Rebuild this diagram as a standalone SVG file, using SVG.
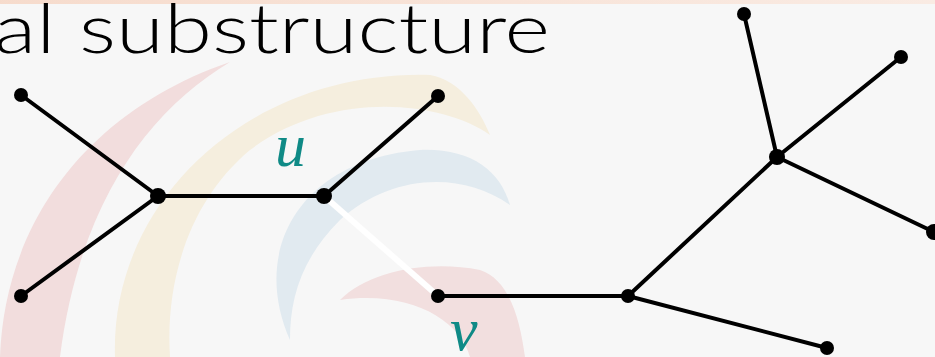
<svg xmlns="http://www.w3.org/2000/svg" width="935" height="357" viewBox="0 0 935 357">
<defs>
<linearGradient id="topbar" x1="0" y1="0" x2="1" y2="0">
<stop offset="0" stop-color="#f6c9b0"/><stop offset="1" stop-color="#fbe3d6"/>
</linearGradient>
<style>
.edge{stroke:#000;stroke-width:4;fill:none;stroke-linecap:round}
.hl{stroke:#fff;stroke-width:6;fill:none}
.node{fill:#000}
.lbl{font-family:"Liberation Serif","DejaVu Serif",serif;font-style:italic;fill:#0f8a86;font-size:62px}
.title{font-family:Lato,"Open Sans","Liberation Sans",sans-serif;font-weight:300;font-size:68px;fill:#000}
</style>
</defs>
<rect width="935" height="357" fill="#f7f7f7"/>
<rect width="935" height="4" fill="url(#topbar)" opacity="0.6"/>
<g id="watermark">
<path d="M0,357 C5,220 90,110 230,62 C150,110 80,200 60,357 Z" fill="#f2dddd"/>
<path d="M115,357 C110,200 250,70 430,75 C460,80 480,110 490,135 C440,100 330,90 250,150 C190,200 165,280 170,357 Z" fill="#f5eede"/>
<path d="M290,340 C250,250 300,160 420,150 C470,148 500,170 510,205 C460,170 390,175 340,220 C300,260 290,300 290,340 Z" fill="#e1eaf0"/>
<path d="M340,300 C370,270 430,260 480,270 C510,280 520,320 525,357 L470,357 C460,320 410,290 340,300 Z" fill="#f2dfdf"/>
</g>
<text class="title" x="-6" y="53" textLength="556" lengthAdjust="spacingAndGlyphs">al substructure</text>
<g id="connectors">
<line class="edge" x1="21" y1="95" x2="158" y2="196"/>
<line class="edge" x1="21" y1="296" x2="158" y2="196"/>
<line class="edge" x1="158" y1="196" x2="324" y2="196"/>
<line class="edge" x1="324" y1="196" x2="438" y2="96"/>
<line class="hl" x1="324" y1="196" x2="438" y2="296"/>
<line class="edge" x1="438" y1="296" x2="628" y2="296"/>
<line class="edge" x1="628" y1="296" x2="777" y2="157"/>
<line class="edge" x1="628" y1="296" x2="827" y2="348"/>
<line class="edge" x1="777" y1="157" x2="744" y2="14"/>
<line class="edge" x1="777" y1="157" x2="901" y2="57"/>
<line class="edge" x1="777" y1="157" x2="934" y2="232"/>
</g>
<g id="n1"><circle class="node" cx="21" cy="95" r="7"/></g>
<g id="n2"><circle class="node" cx="21" cy="296" r="7"/></g>
<g id="n3"><circle class="node" cx="158" cy="196" r="8"/></g>
<g id="u"><circle class="node" cx="324" cy="196" r="8"/><text class="lbl" x="275" y="166">u</text></g>
<g id="n4"><circle class="node" cx="438" cy="96" r="7"/></g>
<g id="v"><circle class="node" cx="438" cy="296" r="7"/><text class="lbl" x="450" y="350">v</text></g>
<g id="n5"><circle class="node" cx="628" cy="296" r="7"/></g>
<g id="n6"><circle class="node" cx="777" cy="157" r="8"/></g>
<g id="n7"><circle class="node" cx="744" cy="14" r="7"/></g>
<g id="n8"><circle class="node" cx="901" cy="57" r="7"/></g>
<g id="n9"><circle class="node" cx="934" cy="232" r="8"/></g>
<g id="n10"><circle class="node" cx="827" cy="348" r="7"/></g>
</svg>
